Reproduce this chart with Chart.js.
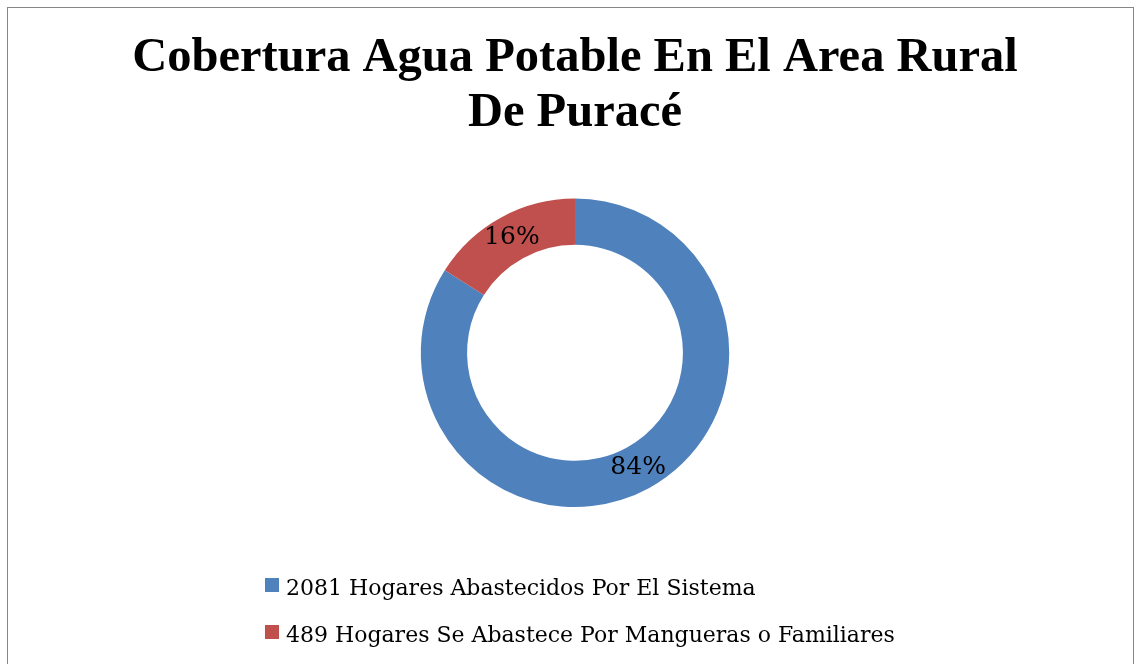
<!DOCTYPE html>
<html>
<head>
<meta charset="utf-8">
<script src="https://cdn.jsdelivr.net/npm/chart.js@4"></script>
<style>
  html, body { margin: 0; padding: 0; background: #fff; }
  #marco {
    position: absolute; left: 7px; top: 7px; width: 1125px; height: 700px;
    border: 1px solid #868686; border-bottom: none; pointer-events: none;
  }
  #grafico { position: absolute; left: 0; top: 0; }
</style>
</head>
<body>
<canvas id="grafico" width="1134" height="664"></canvas>
<div id="marco"></div>
<script>
const titulo = ["Cobertura Agua Potable En El Area Rural", "De Puracé"];
const categorias = [
    "2081 Hogares Abastecidos Por El Sistema",
    "489 Hogares Se Abastece Por Mangueras o Familiares"
];
const porcentajes = [84, 16];
const colores = ["#4F81BD", "#C0504D"];

// Etiquetas de porcentaje sobre cada sector
const etiquetasPorcentaje = {
    id: "etiquetasPorcentaje",
    afterDatasetsDraw(chart) {
        const ctx = chart.ctx;
        const meta = chart.getDatasetMeta(0);
        ctx.save();
        ctx.font = "25px 'DejaVu Serif'";
        ctx.fillStyle = "#000";
        ctx.textAlign = "center";
        ctx.textBaseline = "middle";
        meta.data.forEach((arco, i) => {
            const pos = arco.tooltipPosition();
            ctx.fillText(porcentajes[i] + "%", pos.x, pos.y);
        });
        ctx.restore();
    }
};

// Leyenda alineada a la izquierda, una fila por categoría
const leyenda = {
    id: "leyenda",
    afterDraw(chart) {
        const ctx = chart.ctx;
        const colors = chart.data.datasets[0].backgroundColor;
        ctx.save();
        ctx.font = "22px 'DejaVu Serif'";
        ctx.textBaseline = "alphabetic";
        chart.data.labels.forEach((texto, i) => {
            const base = 595 + i * 47;
            ctx.fillStyle = colors[i];
            ctx.fillRect(265, base - 17, 14, 14);
            ctx.fillStyle = "#000";
            ctx.fillText(texto, 286, base);
        });
        ctx.restore();
    }
};

const ctx = document.getElementById("grafico").getContext("2d");
new Chart(ctx, {
    type: "doughnut",
    data: {
        labels: categorias,
        datasets: [{
            data: porcentajes,
            backgroundColor: colores,
            borderWidth: 0
        }]
    },
    options: {
        responsive: false,
        animation: false,
        cutout: "70%",
        layout: { padding: { left: 16, top: 0, bottom: 157 } },
        plugins: {
            legend: { display: false },
            tooltip: { enabled: false },
            title: {
                display: true,
                text: titulo,
                color: "#000",
                font: { family: "'Liberation Serif'", size: 48.5, weight: "bold", lineHeight: 1.13 },
                padding: { top: 31, bottom: 58 }
            }
        }
    },
    plugins: [etiquetasPorcentaje, leyenda]
});
</script>
</body>
</html>
